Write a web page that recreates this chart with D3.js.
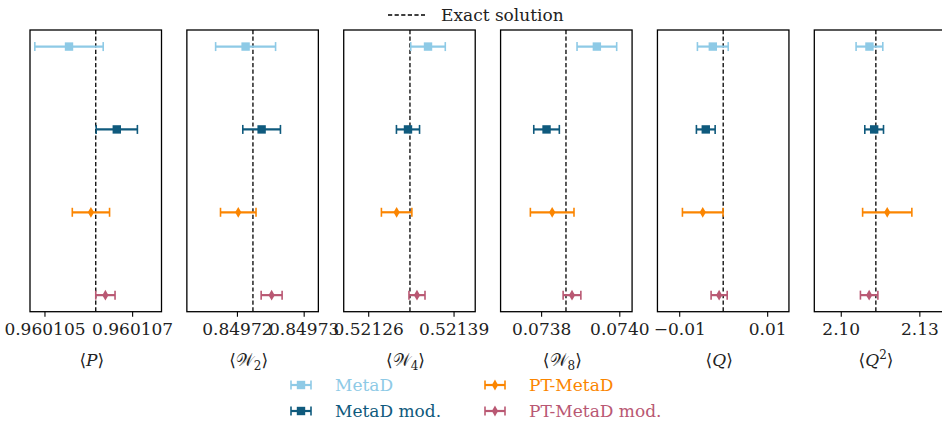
<!DOCTYPE html>
<html>
<head>
<meta charset="utf-8">
<script src="https://cdn.jsdelivr.net/npm/d3@7"></script>
<style>
  html, body { margin: 0; padding: 0; background: #fff; }
  svg { display: block; }
</style>
</head>
<body>
<svg id="chart" width="942" height="421"></svg>
<script>
// Observables shown, one panel each
const observables = ["P", "W2", "W4", "W8", "Q", "Q2"];

// Exact reference values (dashed lines)
const exactValues = [0.96010617, 0.8497224, 0.5213236, 0.0738636, 0.0, 2.1134];

// Axis ranges and ticks for each panel
const xDomains = [
  [0.96010467, 0.96010767],
  [0.8497125, 0.8497322],
  [0.5212227, 0.5214230],
  [0.0736963, 0.0740327],
  [-0.01495, 0.01495],
  [2.0899, 2.1401]
];
const tickValues = [
  [0.960105, 0.960107],
  [0.84972, 0.84973],
  [0.52126, 0.52139],
  [0.0738, 0.0740],
  [-0.01, 0.01],
  [2.10, 2.13]
];
const tickLabels = [
  ["0.960105", "0.960107"],
  ["0.84972", "0.84973"],
  ["0.52126", "0.52139"],
  ["0.0738", "0.0740"],
  ["\u22120.01", "0.01"],
  ["2.10", "2.13"]
];

// Estimates and errors per method
const methods = ["MetaD", "MetaD mod.", "PT-MetaD", "PT-MetaD mod."];
const metadMean    = [0.96010556, 0.8497213, 0.5213511, 0.0739426, -0.00236, 2.11095];
const metadErr     = [0.78e-6, 0.449e-5, 2.63e-5, 5.07e-5, 0.0035, 0.0051];
const metadModMean = [0.96010665, 0.8497237, 0.5213206, 0.0738139, -0.00396, 2.11275];
const metadModErr  = [0.47e-6, 0.282e-5, 1.76e-5, 3.27e-5, 0.00213, 0.00357];
const ptMean       = [0.96010606, 0.8497202, 0.5213033, 0.0738283, -0.00465, 2.11774];
const ptErr        = [0.425e-6, 0.266e-5, 2.32e-5, 5.58e-5, 0.00462, 0.0094];
const ptModMean    = [0.96010639, 0.8497252, 0.5213343, 0.0738790, -0.00092, 2.11084];
const ptModErr     = [0.22e-6, 0.157e-5, 1.22e-5, 2.27e-5, 0.00183, 0.00333];

const methodColors = ["#8ecae6", "#0f5a7d", "#fb8500", "#b95873"];
const methodMarkers = ["square", "square", "diamond", "diamond"];
const means = [metadMean, metadModMean, ptMean, ptModMean];
const errs = [metadErr, metadModErr, ptErr, ptModErr];

const serif = '"DejaVu Serif", "Noto Serif", serif';
const fontSize = "17px";
const svg = d3.select("#chart");

const panelLeft = 30, panelStep = 156.86, panelW = 131.5;
const panelTop = 30, panelH = 281.7;

const y = d3.scaleLinear().domain([-0.2, 3.2]).range([0, panelH]);

function drawMarker(g, type, color) {
  if (type === "square") {
    g.append("rect").attr("x", -4.2).attr("y", -4.2).attr("width", 8.4).attr("height", 8.4)
      .attr("fill", color);
  } else {
    g.append("path").attr("d", "M0,-5.4L3.1,0L0,5.4L-3.1,0Z").attr("fill", color);
  }
}

function drawErrorbar(g, x0, x1, yc, color) {
  g.append("line").attr("x1", x0).attr("x2", x1).attr("y1", yc).attr("y2", yc)
    .attr("stroke", color).attr("stroke-width", 2.2);
  [x0, x1].forEach(xx => {
    g.append("line").attr("x1", xx).attr("x2", xx).attr("y1", yc - 4.5).attr("y2", yc + 4.5)
      .attr("stroke", color).attr("stroke-width", 1.6);
  });
}

function axisLabel(sel, name) {
  sel.append("tspan").text("\u27E8");
  if (name === "P" || name === "Q") {
    sel.append("tspan").attr("font-style", "italic").text(name);
  } else if (name === "Q2") {
    sel.append("tspan").attr("font-style", "italic").text("Q");
    sel.append("tspan").style("font-size", "12px").attr("dy", -7).text("2");
    sel.append("tspan").attr("dy", 7).text("\u27E9");
    return;
  } else {
    sel.append("tspan").text("\uD835\uDCB2");
    sel.append("tspan").style("font-size", "12px").attr("dy", 4).text(name.slice(1));
    sel.append("tspan").attr("dy", -4).text("\u27E9");
    return;
  }
  sel.append("tspan").text("\u27E9");
}

observables.forEach((obs, i) => {
  const g = svg.append("g")
    .attr("transform", `translate(${panelLeft + i * panelStep},${panelTop})`);
  const x = d3.scaleLinear().domain(xDomains[i]).range([0, panelW]);

  // exact solution
  g.append("line")
    .attr("x1", x(exactValues[i])).attr("x2", x(exactValues[i]))
    .attr("y1", 0).attr("y2", panelH)
    .attr("stroke", "#000").attr("stroke-width", 1.3).attr("stroke-dasharray", "4.2,2.4");

  // estimates with error bars
  methods.forEach((m, k) => {
    const v = means[k][i], e = errs[k][i];
    const yc = y(k);
    const eg = g.append("g");
    drawErrorbar(eg, x(v - e), x(v + e), yc, methodColors[k]);
    const mg = eg.append("g").attr("transform", `translate(${x(v)},${yc})`);
    drawMarker(mg, methodMarkers[k], methodColors[k]);
  });

  // frame
  g.append("rect").attr("x", 0).attr("y", 0).attr("width", panelW).attr("height", panelH)
    .attr("fill", "none").attr("stroke", "#000").attr("stroke-width", 1.3);

  // x axis
  const ax = g.append("g").attr("transform", `translate(0,${panelH})`)
    .call(d3.axisBottom(x).tickValues(tickValues[i])
      .tickFormat((d, j) => tickLabels[i][j]).tickSize(5).tickPadding(6));
  ax.attr("font-family", null).attr("font-size", null);
  ax.select(".domain").remove();
  ax.selectAll(".tick line").attr("stroke", "#000").attr("stroke-width", 1.1);
  ax.selectAll(".tick text")
    .style("font-family", serif).style("font-size", fontSize)
    .attr("fill", "#222");

  // axis label
  g.append("text")
    .attr("x", panelW / 2 - 4).attr("y", panelH + 54)
    .attr("text-anchor", "middle").attr("fill", "#222")
    .style("font-family", serif).style("font-size", fontSize)
    .call(axisLabel, obs);
});

// top legend: exact solution
const topLeg = svg.append("g");
topLeg.append("line").attr("x1", 388).attr("x2", 425).attr("y1", 15).attr("y2", 15)
  .attr("stroke", "#000").attr("stroke-width", 1.3).attr("stroke-dasharray", "4.2,2.4");
topLeg.append("text").attr("x", 441).attr("y", 21).attr("fill", "#222")
  .style("font-family", serif).style("font-size", fontSize)
  .text("Exact solution");

// bottom legend: methods
const legPos = [[301, 385], [301, 411], [495, 385], [495, 411]];
methods.forEach((m, k) => {
  const lg = svg.append("g").attr("transform", `translate(${legPos[k][0]},${legPos[k][1]})`);
  drawErrorbar(lg, -10, 10, 0, methodColors[k]);
  const mg = lg.append("g");
  drawMarker(mg, methodMarkers[k], methodColors[k]);
  lg.append("text").attr("x", 34).attr("y", 6)
    .style("font-family", serif).style("font-size", fontSize)
    .attr("fill", methodColors[k]).text(m);
});
</script>
</body>
</html>
